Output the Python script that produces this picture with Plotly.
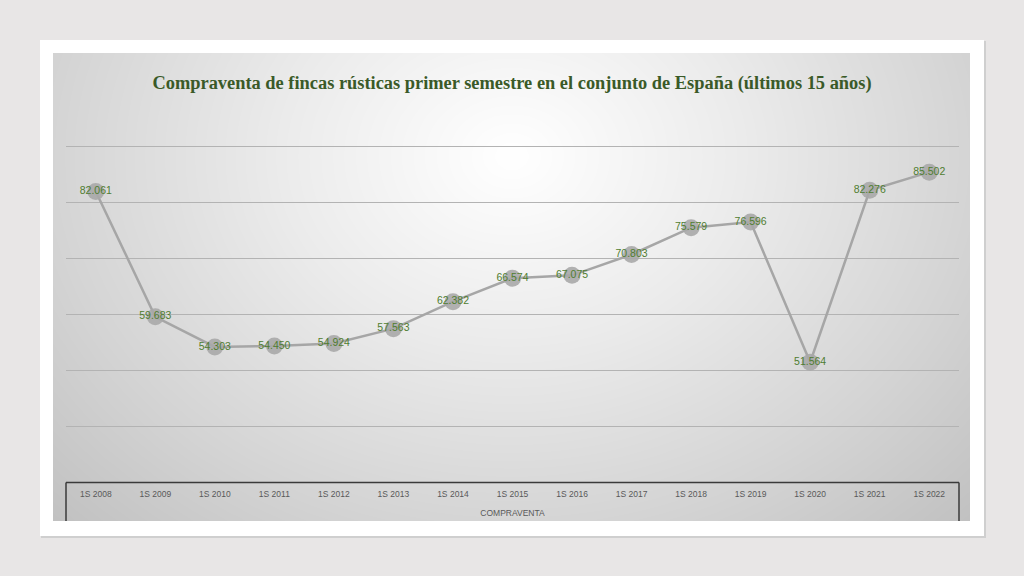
import numpy as np
import plotly.graph_objects as go

categories = ["1S 2008", "1S 2009", "1S 2010", "1S 2011", "1S 2012", "1S 2013", "1S 2014",
              "1S 2015", "1S 2016", "1S 2017", "1S 2018", "1S 2019", "1S 2020", "1S 2021", "1S 2022"]
compraventa = [82061, 59683, 54303, 54450, 54924, 57563, 62382, 66574, 67075, 70803,
               75579, 76596, 51564, 82276, 85502]
labels = ["82.061", "59.683", "54.303", "54.450", "54.924", "57.563", "62.382", "66.574",
          "67.075", "70.803", "75.579", "76.596", "51.564", "82.276", "85.502"]
title = "Compraventa de fincas rústicas primer semestre en el conjunto de España (últimos 15 años)"

W, H = 1024, 576
def px(x): return x / W
def py(y): return 1 - y / H

# background radial gradient for the chart area (decoration)
gx = np.linspace(0, 1, 80)
gy = np.linspace(0, 1, 60)
XX, YY = np.meshgrid(gx, gy)
cx, cy = 0.5, 0.78
dist = np.sqrt(((XX - cx) / 0.6) ** 2 + ((YY - cy) / 0.95) ** 2)
zbg = np.clip(dist, 0, 1.2)

fig = go.Figure()
fig.add_trace(go.Heatmap(x=gx, y=gy, z=zbg, zsmooth="best", showscale=False, hoverinfo="skip",
                         colorscale=[[0, "#ffffff"], [0.35, "#ebebeb"], [0.7, "#d4d4d4"], [1, "#bfbfbf"]],
                         zmin=0, zmax=1.2, xaxis="x", yaxis="y"))

fig.add_trace(go.Scatter(x=categories, y=compraventa, mode="lines+markers+text",
                         text=labels, textposition="middle center",
                         textfont=dict(family="Liberation Sans", size=10.5, color="#4f7d30"),
                         line=dict(color="#a6a6a6", width=2.5),
                         marker=dict(size=17, color="rgba(168,168,168,0.9)"),
                         xaxis="x2", yaxis="y2", hoverinfo="skip", cliponaxis=False))

fig.update_layout(
    width=W, height=H, margin=dict(l=0, r=0, t=0, b=0),
    paper_bgcolor="#e8e6e6", plot_bgcolor="rgba(0,0,0,0)", showlegend=False,
    xaxis=dict(domain=[px(53), px(970)], range=[0, 1], visible=False, fixedrange=True),
    yaxis=dict(domain=[py(521), py(53)], range=[0, 1], visible=False, fixedrange=True),
    xaxis2=dict(domain=[px(66), px(959)], anchor="y2", type="category", range=[-0.5, 14.5],
                showgrid=False, showline=False, ticks="", ticklabelstandoff=4,
                tickfont=dict(family="Liberation Sans", size=8.5, color="#595959"),
                title=dict(text="COMPRAVENTA", font=dict(family="Liberation Sans", size=8.5, color="#595959"),
                           standoff=12)),
    yaxis2=dict(domain=[py(483), py(143.6)], anchor="x2", range=[30000, 90600], dtick=10000,
                showgrid=True, gridcolor="#b3b3b3", gridwidth=1, zeroline=False,
                showticklabels=False, ticks=""),
    title=dict(text="<b>" + title + "</b>", x=0.5, xanchor="center", y=py(83), yanchor="middle",
               font=dict(family="Liberation Serif", size=18.4, color="#3a5a28")),
    shapes=[
        dict(type="rect", xref="paper", yref="paper", x0=px(41), x1=px(986), y0=py(538), y1=py(41),
             fillcolor="#cfcfcf", line=dict(width=0), layer="below"),
        dict(type="rect", xref="paper", yref="paper", x0=px(40), x1=px(984), y0=py(536), y1=py(40),
             fillcolor="#ffffff", line=dict(width=0), layer="below"),
        dict(type="line", xref="paper", yref="paper", x0=px(66), x1=px(959), y0=py(482.5), y1=py(482.5),
             line=dict(color="#3a3a3a", width=1.5)),
        dict(type="line", xref="paper", yref="paper", x0=px(66), x1=px(66), y0=py(482.5), y1=py(521),
             line=dict(color="#3a3a3a", width=1.5)),
        dict(type="line", xref="paper", yref="paper", x0=px(959), x1=px(959), y0=py(482.5), y1=py(521),
             line=dict(color="#3a3a3a", width=1.5)),
    ],
)

fig.write_html("out.html")
